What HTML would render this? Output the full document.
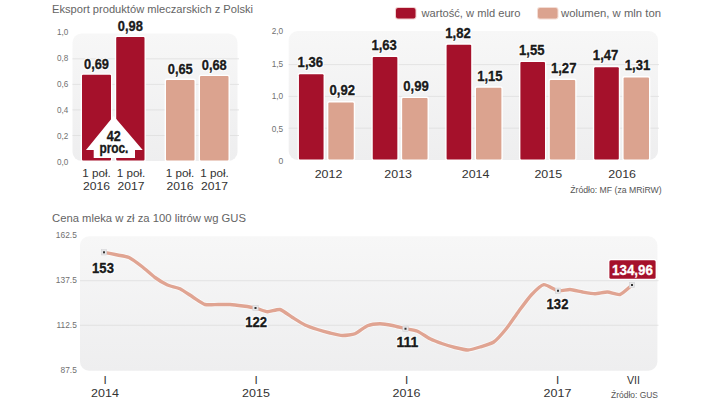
<!DOCTYPE html>
<html><head><meta charset="utf-8"><title>chart</title>
<style>
html,body{margin:0;padding:0;background:#fff;}
body{width:720px;height:406px;overflow:hidden;font-family:"Liberation Sans",sans-serif;}
svg{display:block;position:absolute;left:0;top:0;}
text{font-family:"Liberation Sans",sans-serif;}
.t{font-size:11.4px;fill:#646464;}
.ax{font-size:8.6px;fill:#707070;}
.xl{font-size:11.7px;fill:#333;}
.v{font-size:15.2px;font-weight:bold;fill:#1a1a1a;}
.src{font-size:8.5px;fill:#555;}
</style></head><body>
<svg width="720" height="406" viewBox="0 0 720 406">
<defs>
<linearGradient id="pg" x1="0" y1="0" x2="0" y2="1"><stop offset="0" stop-color="#f7f7f7"/><stop offset="1" stop-color="#eeeeef"/></linearGradient>
</defs>

<text x="52" y="13.3" class="t" textLength="201" lengthAdjust="spacingAndGlyphs">Eksport produktów mleczarskich z Polski</text>
<rect x="72.5" y="33.5" width="165" height="127.5" rx="9" fill="url(#pg)"/>
<text x="68.3" y="165.4" class="ax" text-anchor="end" textLength="11.3" lengthAdjust="spacingAndGlyphs">0,0</text>
<line x1="72.5" x2="239" y1="135.5" y2="135.5" stroke="#dedede" stroke-width="0.8"/>
<text x="68.3" y="139.4" class="ax" text-anchor="end" textLength="11.3" lengthAdjust="spacingAndGlyphs">0,2</text>
<line x1="72.5" x2="239" y1="109.9" y2="109.9" stroke="#dedede" stroke-width="0.8"/>
<text x="68.3" y="113.4" class="ax" text-anchor="end" textLength="11.3" lengthAdjust="spacingAndGlyphs">0,4</text>
<line x1="72.5" x2="239" y1="84.4" y2="84.4" stroke="#dedede" stroke-width="0.8"/>
<text x="68.3" y="87.4" class="ax" text-anchor="end" textLength="11.3" lengthAdjust="spacingAndGlyphs">0,6</text>
<line x1="72.5" x2="239" y1="58.8" y2="58.8" stroke="#dedede" stroke-width="0.8"/>
<text x="68.3" y="61.4" class="ax" text-anchor="end" textLength="11.3" lengthAdjust="spacingAndGlyphs">0,8</text>
<text x="68.3" y="35.4" class="ax" text-anchor="end" textLength="11.3" lengthAdjust="spacingAndGlyphs">1,0</text>
<rect x="80.60" y="73.40" width="31.80" height="88.50" rx="2.2" fill="#fff" opacity="0.95"/>
<rect x="82.00" y="74.80" width="29.00" height="85.70" rx="1" fill="#a5112b"/>
<rect x="114.80" y="35.70" width="31.10" height="126.20" rx="2.2" fill="#fff" opacity="0.95"/>
<rect x="116.20" y="37.10" width="28.30" height="123.40" rx="1" fill="#a5112b"/>
<rect x="164.60" y="78.60" width="31.30" height="83.30" rx="2.2" fill="#fff" opacity="0.95"/>
<rect x="166.00" y="80.00" width="28.50" height="80.50" rx="1" fill="#dba38f"/>
<rect x="198.60" y="74.70" width="31.30" height="87.20" rx="2.2" fill="#fff" opacity="0.95"/>
<rect x="200.00" y="76.10" width="28.50" height="84.40" rx="1" fill="#dba38f"/>
<text x="96.5" y="68.80000000000001" class="v" text-anchor="middle" textLength="25" lengthAdjust="spacingAndGlyphs" stroke="#fff" stroke-width="2.6" stroke-linejoin="round" style="fill:#fff">0,69</text>
<text x="96.5" y="68.80000000000001" class="v" text-anchor="middle" textLength="25" lengthAdjust="spacingAndGlyphs" stroke="#1a1a1a" stroke-width="0.35">0,69</text>
<text x="130.35" y="31.10000000000001" class="v" text-anchor="middle" textLength="25" lengthAdjust="spacingAndGlyphs" stroke="#fff" stroke-width="2.6" stroke-linejoin="round" style="fill:#fff">0,98</text>
<text x="130.35" y="31.10000000000001" class="v" text-anchor="middle" textLength="25" lengthAdjust="spacingAndGlyphs" stroke="#1a1a1a" stroke-width="0.35">0,98</text>
<text x="180.25" y="74.0" class="v" text-anchor="middle" textLength="25" lengthAdjust="spacingAndGlyphs" stroke="#fff" stroke-width="2.6" stroke-linejoin="round" style="fill:#fff">0,65</text>
<text x="180.25" y="74.0" class="v" text-anchor="middle" textLength="25" lengthAdjust="spacingAndGlyphs" stroke="#1a1a1a" stroke-width="0.35">0,65</text>
<text x="214.25" y="70.1" class="v" text-anchor="middle" textLength="25" lengthAdjust="spacingAndGlyphs" stroke="#fff" stroke-width="2.6" stroke-linejoin="round" style="fill:#fff">0,68</text>
<text x="214.25" y="70.1" class="v" text-anchor="middle" textLength="25" lengthAdjust="spacingAndGlyphs" stroke="#1a1a1a" stroke-width="0.35">0,68</text>
<path d="M113.7,116 L142.7,150 L135,150 L135,158 L93.7,158 L93.7,150 L86,150 Z" fill="#fff"/>
<text x="113.7" y="140.5" class="v" text-anchor="middle" textLength="14" lengthAdjust="spacingAndGlyphs" stroke="#1a1a1a" stroke-width="0.35">42</text>
<text x="113.9" y="153" class="v" text-anchor="middle" textLength="29" lengthAdjust="spacingAndGlyphs" stroke="#1a1a1a" stroke-width="0.35">proc.</text>
<text x="96.5" y="177" class="xl" text-anchor="middle" textLength="28.5" lengthAdjust="spacingAndGlyphs">1 poł.</text>
<text x="96.5" y="189.5" class="xl" text-anchor="middle" textLength="27" lengthAdjust="spacingAndGlyphs">2016</text>
<text x="131" y="177" class="xl" text-anchor="middle" textLength="28.5" lengthAdjust="spacingAndGlyphs">1 poł.</text>
<text x="131" y="189.5" class="xl" text-anchor="middle" textLength="27" lengthAdjust="spacingAndGlyphs">2017</text>
<text x="180" y="177" class="xl" text-anchor="middle" textLength="28.5" lengthAdjust="spacingAndGlyphs">1 poł.</text>
<text x="180" y="189.5" class="xl" text-anchor="middle" textLength="27" lengthAdjust="spacingAndGlyphs">2016</text>
<text x="214.5" y="177" class="xl" text-anchor="middle" textLength="28.5" lengthAdjust="spacingAndGlyphs">1 poł.</text>
<text x="214.5" y="189.5" class="xl" text-anchor="middle" textLength="27" lengthAdjust="spacingAndGlyphs">2017</text>
<rect x="395" y="7" width="21.5" height="12.5" rx="3" fill="#f0d0cf"/>
<rect x="396" y="8" width="19.5" height="10.5" rx="2" fill="#a5112b"/>
<text x="421.5" y="16.7" class="t" textLength="99" lengthAdjust="spacingAndGlyphs">wartość, w mld euro</text>
<rect x="537" y="7" width="21.5" height="12.5" rx="3" fill="#f3dcd4"/>
<rect x="538" y="8" width="19.5" height="10.5" rx="2" fill="#dba38f"/>
<text x="561" y="16.7" class="t" textLength="100" lengthAdjust="spacingAndGlyphs">wolumen, w mln ton</text>
<rect x="288.7" y="31" width="369.3" height="129" rx="9" fill="url(#pg)"/>
<text x="283.2" y="163.9" class="ax" text-anchor="end">0</text>
<line x1="288.7" x2="659" y1="128.2" y2="128.2" stroke="#dedede" stroke-width="0.8"/>
<text x="283.2" y="131.5" class="ax" text-anchor="end" textLength="11.5" lengthAdjust="spacingAndGlyphs">0,5</text>
<line x1="288.7" x2="659" y1="96.4" y2="96.4" stroke="#dedede" stroke-width="0.8"/>
<text x="283.2" y="99.1" class="ax" text-anchor="end" textLength="11.5" lengthAdjust="spacingAndGlyphs">1,0</text>
<line x1="288.7" x2="659" y1="64.6" y2="64.6" stroke="#dedede" stroke-width="0.8"/>
<text x="283.2" y="66.7" class="ax" text-anchor="end" textLength="11.5" lengthAdjust="spacingAndGlyphs">1,5</text>
<text x="283.2" y="34.3" class="ax" text-anchor="end" textLength="11.5" lengthAdjust="spacingAndGlyphs">2,0</text>
<rect x="297.55" y="72.85" width="27.40" height="88.15" rx="2.2" fill="#fff" opacity="0.95"/>
<rect x="298.95" y="74.25" width="24.60" height="85.35" rx="1" fill="#a5112b"/>
<rect x="326.95" y="101.05" width="28.20" height="59.95" rx="2.2" fill="#fff" opacity="0.95"/>
<rect x="328.35" y="102.45" width="25.40" height="57.15" rx="1" fill="#dba38f"/>
<rect x="371.35" y="55.55" width="27.40" height="105.45" rx="2.2" fill="#fff" opacity="0.95"/>
<rect x="372.75" y="56.95" width="24.60" height="102.65" rx="1" fill="#a5112b"/>
<rect x="400.75" y="96.56" width="28.20" height="64.44" rx="2.2" fill="#fff" opacity="0.95"/>
<rect x="402.15" y="97.96" width="25.40" height="61.64" rx="1" fill="#dba38f"/>
<rect x="445.20" y="43.37" width="27.40" height="117.63" rx="2.2" fill="#fff" opacity="0.95"/>
<rect x="446.60" y="44.77" width="24.60" height="114.83" rx="1" fill="#a5112b"/>
<rect x="474.60" y="86.31" width="28.20" height="74.69" rx="2.2" fill="#fff" opacity="0.95"/>
<rect x="476.00" y="87.71" width="25.40" height="71.89" rx="1" fill="#dba38f"/>
<rect x="519.00" y="60.68" width="27.40" height="100.32" rx="2.2" fill="#fff" opacity="0.95"/>
<rect x="520.40" y="62.08" width="24.60" height="97.52" rx="1" fill="#a5112b"/>
<rect x="548.40" y="78.62" width="28.20" height="82.38" rx="2.2" fill="#fff" opacity="0.95"/>
<rect x="549.80" y="80.02" width="25.40" height="79.58" rx="1" fill="#dba38f"/>
<rect x="592.80" y="65.80" width="27.40" height="95.20" rx="2.2" fill="#fff" opacity="0.95"/>
<rect x="594.20" y="67.20" width="24.60" height="92.40" rx="1" fill="#a5112b"/>
<rect x="622.20" y="76.06" width="28.20" height="84.94" rx="2.2" fill="#fff" opacity="0.95"/>
<rect x="623.60" y="77.46" width="25.40" height="82.14" rx="1" fill="#dba38f"/>
<text x="310.35" y="67.1512" class="v" text-anchor="middle" textLength="25.5" lengthAdjust="spacingAndGlyphs" stroke="#fff" stroke-width="2.6" stroke-linejoin="round" style="fill:#fff">1,36</text>
<text x="310.35" y="67.1512" class="v" text-anchor="middle" textLength="25.5" lengthAdjust="spacingAndGlyphs" stroke="#1a1a1a" stroke-width="0.35">1,36</text>
<text x="342.25" y="95.34640000000002" class="v" text-anchor="middle" textLength="25.5" lengthAdjust="spacingAndGlyphs" stroke="#fff" stroke-width="2.6" stroke-linejoin="round" style="fill:#fff">0,92</text>
<text x="342.25" y="95.34640000000002" class="v" text-anchor="middle" textLength="25.5" lengthAdjust="spacingAndGlyphs" stroke="#1a1a1a" stroke-width="0.35">0,92</text>
<text x="328.5" y="177.8" class="xl" text-anchor="middle" textLength="27.7" lengthAdjust="spacingAndGlyphs">2012</text>
<text x="384.15000000000003" y="49.84960000000002" class="v" text-anchor="middle" textLength="25.5" lengthAdjust="spacingAndGlyphs" stroke="#fff" stroke-width="2.6" stroke-linejoin="round" style="fill:#fff">1,63</text>
<text x="384.15000000000003" y="49.84960000000002" class="v" text-anchor="middle" textLength="25.5" lengthAdjust="spacingAndGlyphs" stroke="#1a1a1a" stroke-width="0.35">1,63</text>
<text x="416.05" y="90.86080000000001" class="v" text-anchor="middle" textLength="25.5" lengthAdjust="spacingAndGlyphs" stroke="#fff" stroke-width="2.6" stroke-linejoin="round" style="fill:#fff">0,99</text>
<text x="416.05" y="90.86080000000001" class="v" text-anchor="middle" textLength="25.5" lengthAdjust="spacingAndGlyphs" stroke="#1a1a1a" stroke-width="0.35">0,99</text>
<text x="398.2" y="177.8" class="xl" text-anchor="middle" textLength="27.7" lengthAdjust="spacingAndGlyphs">2013</text>
<text x="458.0" y="37.6744" class="v" text-anchor="middle" textLength="25.5" lengthAdjust="spacingAndGlyphs" stroke="#fff" stroke-width="2.6" stroke-linejoin="round" style="fill:#fff">1,82</text>
<text x="458.0" y="37.6744" class="v" text-anchor="middle" textLength="25.5" lengthAdjust="spacingAndGlyphs" stroke="#1a1a1a" stroke-width="0.35">1,82</text>
<text x="489.9" y="80.60800000000002" class="v" text-anchor="middle" textLength="25.5" lengthAdjust="spacingAndGlyphs" stroke="#fff" stroke-width="2.6" stroke-linejoin="round" style="fill:#fff">1,15</text>
<text x="489.9" y="80.60800000000002" class="v" text-anchor="middle" textLength="25.5" lengthAdjust="spacingAndGlyphs" stroke="#1a1a1a" stroke-width="0.35">1,15</text>
<text x="475.6" y="177.8" class="xl" text-anchor="middle" textLength="27.7" lengthAdjust="spacingAndGlyphs">2014</text>
<text x="531.8000000000001" y="54.976000000000006" class="v" text-anchor="middle" textLength="25.5" lengthAdjust="spacingAndGlyphs" stroke="#fff" stroke-width="2.6" stroke-linejoin="round" style="fill:#fff">1,55</text>
<text x="531.8000000000001" y="54.976000000000006" class="v" text-anchor="middle" textLength="25.5" lengthAdjust="spacingAndGlyphs" stroke="#1a1a1a" stroke-width="0.35">1,55</text>
<text x="563.7" y="72.9184" class="v" text-anchor="middle" textLength="25.5" lengthAdjust="spacingAndGlyphs" stroke="#fff" stroke-width="2.6" stroke-linejoin="round" style="fill:#fff">1,27</text>
<text x="563.7" y="72.9184" class="v" text-anchor="middle" textLength="25.5" lengthAdjust="spacingAndGlyphs" stroke="#1a1a1a" stroke-width="0.35">1,27</text>
<text x="548.3" y="177.8" class="xl" text-anchor="middle" textLength="27.7" lengthAdjust="spacingAndGlyphs">2015</text>
<text x="605.6" y="60.10240000000001" class="v" text-anchor="middle" textLength="25.5" lengthAdjust="spacingAndGlyphs" stroke="#fff" stroke-width="2.6" stroke-linejoin="round" style="fill:#fff">1,47</text>
<text x="605.6" y="60.10240000000001" class="v" text-anchor="middle" textLength="25.5" lengthAdjust="spacingAndGlyphs" stroke="#1a1a1a" stroke-width="0.35">1,47</text>
<text x="637.5" y="70.35520000000001" class="v" text-anchor="middle" textLength="25.5" lengthAdjust="spacingAndGlyphs" stroke="#fff" stroke-width="2.6" stroke-linejoin="round" style="fill:#fff">1,31</text>
<text x="637.5" y="70.35520000000001" class="v" text-anchor="middle" textLength="25.5" lengthAdjust="spacingAndGlyphs" stroke="#1a1a1a" stroke-width="0.35">1,31</text>
<text x="622.2" y="177.8" class="xl" text-anchor="middle" textLength="27.7" lengthAdjust="spacingAndGlyphs">2016</text>
<text x="661.7" y="193" class="src" text-anchor="end" textLength="91.5" lengthAdjust="spacingAndGlyphs">Źródło: MF (za MRiRW)</text>
<text x="52" y="222" class="t" textLength="194" lengthAdjust="spacingAndGlyphs">Cena mleka w zł za 100 litrów wg GUS</text>
<rect x="80" y="236.3" width="577.4" height="134.4" rx="9" fill="url(#pg)"/>
<text x="76.8" y="237.6" class="ax" text-anchor="end" style="font-size:8.4px">162.5</text>
<line x1="80" x2="658.5" y1="280.7" y2="280.7" stroke="#dedede" stroke-width="0.8"/>
<text x="76.8" y="282.8" class="ax" text-anchor="end" style="font-size:8.4px">137.5</text>
<line x1="80" x2="658.5" y1="325.3" y2="325.3" stroke="#dedede" stroke-width="0.8"/>
<text x="76.8" y="328.0" class="ax" text-anchor="end" style="font-size:8.4px">112.5</text>
<text x="76.8" y="373.2" class="ax" text-anchor="end" style="font-size:8.4px">87.5</text>
<path d="M104,252.3 C105.35,252.57 115.00,254.48 117.5,255 C120.00,255.52 126.49,256.30 129,257.5 C131.51,258.70 140.00,265.00 142.6,267 C145.20,269.00 152.51,275.70 155,277.5 C157.49,279.30 165.00,283.88 167.5,285 C170.00,286.12 177.47,287.55 180,288.75 C182.53,289.95 190.30,295.43 192.8,297 C195.30,298.57 202.49,303.75 205,304.5 C207.51,305.25 215.40,304.50 217.9,304.5 C220.40,304.50 227.49,304.35 230,304.5 C232.51,304.65 240.45,305.65 243,306 C245.55,306.35 253.05,307.43 255.5,308 C257.95,308.57 265.05,311.60 267.5,311.75 C269.95,311.90 277.50,308.93 280,309.5 C282.50,310.07 290.00,315.95 292.5,317.5 C295.00,319.05 302.50,323.80 305,325 C307.50,326.20 315.00,328.70 317.5,329.5 C320.00,330.30 327.50,332.40 330,333 C332.50,333.60 340.00,335.43 342.5,335.5 C345.00,335.57 352.50,334.73 355,333.75 C357.50,332.77 365.00,326.75 367.5,325.75 C370.00,324.75 377.50,323.77 380,323.75 C382.50,323.73 389.95,325.00 392.5,325.5 C395.05,326.00 403.00,328.18 405.5,328.75 C408.00,329.32 415.05,330.25 417.5,331.25 C419.95,332.25 427.50,337.50 430,338.75 C432.50,340.00 440.00,342.88 442.5,343.75 C445.00,344.62 452.45,346.88 455,347.5 C457.55,348.12 465.50,350.05 468,350 C470.50,349.95 477.43,347.80 480,347 C482.57,346.20 491.12,343.82 493.75,342 C496.38,340.18 503.75,331.82 506.25,328.75 C508.75,325.68 516.25,314.62 518.75,311.25 C521.25,307.88 528.75,297.67 531.25,295 C533.75,292.33 541.08,285.03 543.75,284.6 C546.42,284.18 555.38,290.26 558,290.75 C560.62,291.24 567.55,289.38 570,289.5 C572.45,289.62 580.00,291.57 582.5,292 C585.00,292.43 592.50,293.75 595,293.75 C597.50,293.75 605.00,291.93 607.5,292 C610.00,292.07 617.55,295.20 620,294.5 C622.45,293.80 630.80,285.95 632,285" fill="none" stroke="#fff" stroke-opacity="0.55" stroke-width="5" stroke-linejoin="round" stroke-linecap="round"/>
<path d="M104,252.3 C105.35,252.57 115.00,254.48 117.5,255 C120.00,255.52 126.49,256.30 129,257.5 C131.51,258.70 140.00,265.00 142.6,267 C145.20,269.00 152.51,275.70 155,277.5 C157.49,279.30 165.00,283.88 167.5,285 C170.00,286.12 177.47,287.55 180,288.75 C182.53,289.95 190.30,295.43 192.8,297 C195.30,298.57 202.49,303.75 205,304.5 C207.51,305.25 215.40,304.50 217.9,304.5 C220.40,304.50 227.49,304.35 230,304.5 C232.51,304.65 240.45,305.65 243,306 C245.55,306.35 253.05,307.43 255.5,308 C257.95,308.57 265.05,311.60 267.5,311.75 C269.95,311.90 277.50,308.93 280,309.5 C282.50,310.07 290.00,315.95 292.5,317.5 C295.00,319.05 302.50,323.80 305,325 C307.50,326.20 315.00,328.70 317.5,329.5 C320.00,330.30 327.50,332.40 330,333 C332.50,333.60 340.00,335.43 342.5,335.5 C345.00,335.57 352.50,334.73 355,333.75 C357.50,332.77 365.00,326.75 367.5,325.75 C370.00,324.75 377.50,323.77 380,323.75 C382.50,323.73 389.95,325.00 392.5,325.5 C395.05,326.00 403.00,328.18 405.5,328.75 C408.00,329.32 415.05,330.25 417.5,331.25 C419.95,332.25 427.50,337.50 430,338.75 C432.50,340.00 440.00,342.88 442.5,343.75 C445.00,344.62 452.45,346.88 455,347.5 C457.55,348.12 465.50,350.05 468,350 C470.50,349.95 477.43,347.80 480,347 C482.57,346.20 491.12,343.82 493.75,342 C496.38,340.18 503.75,331.82 506.25,328.75 C508.75,325.68 516.25,314.62 518.75,311.25 C521.25,307.88 528.75,297.67 531.25,295 C533.75,292.33 541.08,285.03 543.75,284.6 C546.42,284.18 555.38,290.26 558,290.75 C560.62,291.24 567.55,289.38 570,289.5 C572.45,289.62 580.00,291.57 582.5,292 C585.00,292.43 592.50,293.75 595,293.75 C597.50,293.75 605.00,291.93 607.5,292 C610.00,292.07 617.55,295.20 620,294.5 C622.45,293.80 630.80,285.95 632,285" fill="none" stroke="#e0a492" stroke-width="3.4" stroke-linejoin="round" stroke-linecap="round"/>
<rect x="101.3" y="249.60000000000002" width="5.4" height="5.4" fill="#e6e6e8" stroke="#cfcfd2" stroke-width="0.5"/>
<rect x="103" y="251.3" width="2" height="2" fill="#333"/>
<rect x="252.8" y="305.3" width="5.4" height="5.4" fill="#e6e6e8" stroke="#cfcfd2" stroke-width="0.5"/>
<rect x="254.5" y="307" width="2" height="2" fill="#333"/>
<rect x="402.8" y="326.05" width="5.4" height="5.4" fill="#e6e6e8" stroke="#cfcfd2" stroke-width="0.5"/>
<rect x="404.5" y="327.75" width="2" height="2" fill="#333"/>
<rect x="555.3" y="288.05" width="5.4" height="5.4" fill="#e6e6e8" stroke="#cfcfd2" stroke-width="0.5"/>
<rect x="557" y="289.75" width="2" height="2" fill="#333"/>
<rect x="629.3" y="282.3" width="5.4" height="5.4" fill="#e6e6e8" stroke="#cfcfd2" stroke-width="0.5"/>
<rect x="631" y="284" width="2" height="2" fill="#333"/>
<text x="103" y="273.2" class="v" text-anchor="middle" textLength="21.8" lengthAdjust="spacingAndGlyphs" stroke="#fff" stroke-width="2.6" stroke-linejoin="round" style="fill:#fff">153</text>
<text x="103" y="273.2" class="v" text-anchor="middle" textLength="21.8" lengthAdjust="spacingAndGlyphs" stroke="#1a1a1a" stroke-width="0.35">153</text>
<text x="256.2" y="327" class="v" text-anchor="middle" textLength="21.8" lengthAdjust="spacingAndGlyphs" stroke="#fff" stroke-width="2.6" stroke-linejoin="round" style="fill:#fff">122</text>
<text x="256.2" y="327" class="v" text-anchor="middle" textLength="21.8" lengthAdjust="spacingAndGlyphs" stroke="#1a1a1a" stroke-width="0.35">122</text>
<text x="407.5" y="346.8" class="v" text-anchor="middle" textLength="21.8" lengthAdjust="spacingAndGlyphs" stroke="#fff" stroke-width="2.6" stroke-linejoin="round" style="fill:#fff">111</text>
<text x="407.5" y="346.8" class="v" text-anchor="middle" textLength="21.8" lengthAdjust="spacingAndGlyphs" stroke="#1a1a1a" stroke-width="0.35">111</text>
<text x="557.5" y="309" class="v" text-anchor="middle" textLength="21.8" lengthAdjust="spacingAndGlyphs" stroke="#fff" stroke-width="2.6" stroke-linejoin="round" style="fill:#fff">132</text>
<text x="557.5" y="309" class="v" text-anchor="middle" textLength="21.8" lengthAdjust="spacingAndGlyphs" stroke="#1a1a1a" stroke-width="0.35">132</text>
<rect x="608.2" y="259" width="48.6" height="21" rx="2.5" fill="#fff"/>
<rect x="609.4" y="260.2" width="46.2" height="18.6" rx="1.5" fill="#a5112b"/>
<text x="632.5" y="275" class="v" text-anchor="middle" textLength="41" lengthAdjust="spacingAndGlyphs" style="fill:#fff" stroke="#fff" stroke-width="0.3">134,96</text>
<text x="105" y="384.2" class="xl" text-anchor="middle">I</text>
<text x="105" y="397.2" class="xl" text-anchor="middle" textLength="27.8" lengthAdjust="spacingAndGlyphs">2014</text>
<text x="256" y="384.2" class="xl" text-anchor="middle">I</text>
<text x="256" y="397.2" class="xl" text-anchor="middle" textLength="27.8" lengthAdjust="spacingAndGlyphs">2015</text>
<text x="406.5" y="384.2" class="xl" text-anchor="middle">I</text>
<text x="406.5" y="397.2" class="xl" text-anchor="middle" textLength="27.8" lengthAdjust="spacingAndGlyphs">2016</text>
<text x="557.5" y="384.2" class="xl" text-anchor="middle">I</text>
<text x="557.5" y="397.2" class="xl" text-anchor="middle" textLength="27.8" lengthAdjust="spacingAndGlyphs">2017</text>
<text x="633.5" y="384.2" class="xl" text-anchor="middle" textLength="13" lengthAdjust="spacingAndGlyphs">VII</text>
<text x="658" y="397.8" class="src" text-anchor="end" textLength="47" lengthAdjust="spacingAndGlyphs">Źródło: GUS</text>
</svg></body></html>
